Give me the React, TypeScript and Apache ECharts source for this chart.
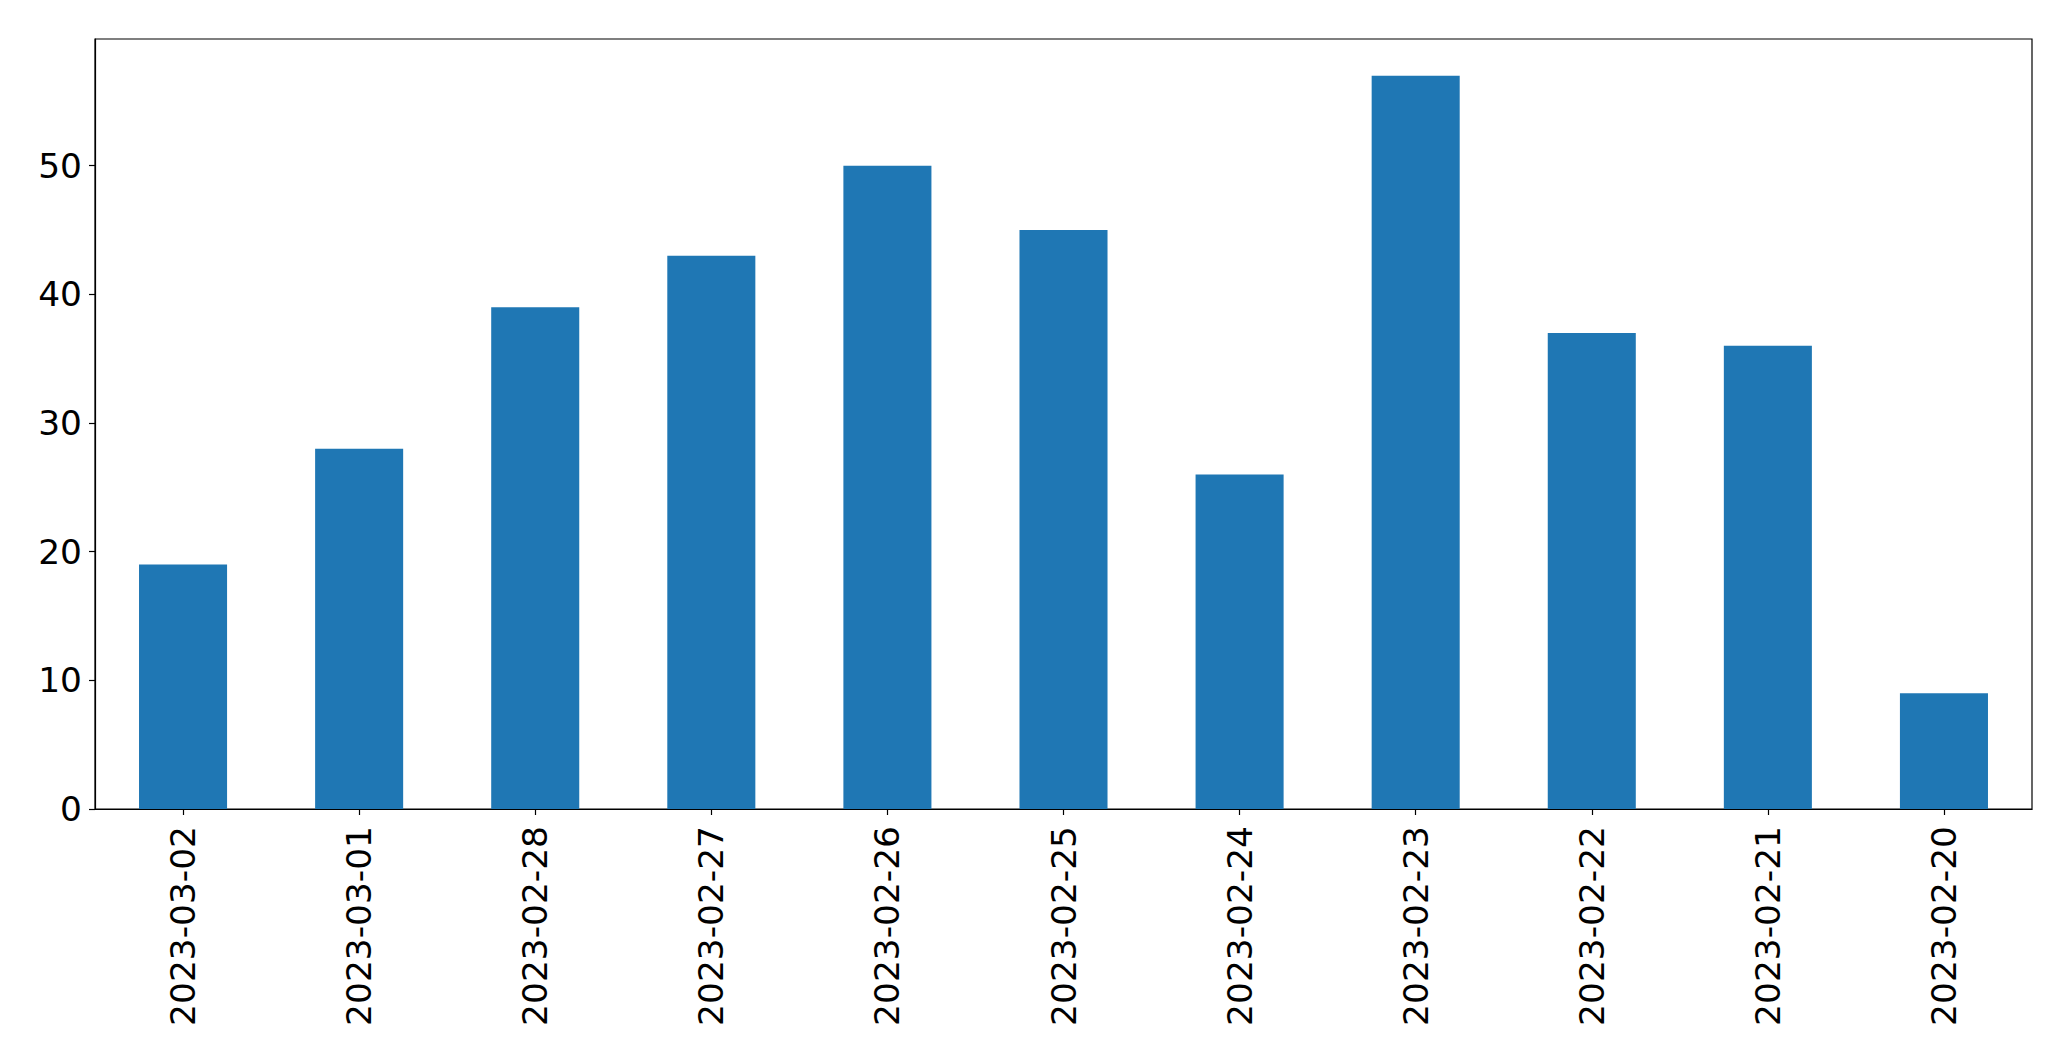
import React, { useEffect, useRef } from "react";
import * as echarts from "echarts";

const categories = [
  "2023-03-02",
  "2023-03-01",
  "2023-02-28",
  "2023-02-27",
  "2023-02-26",
  "2023-02-25",
  "2023-02-24",
  "2023-02-23",
  "2023-02-22",
  "2023-02-21",
  "2023-02-20",
];
const values = [19, 28, 39, 43, 50, 45, 26, 57, 37, 36, 9];
const yMax = 59.85;
const yInterval = 10;

export default function App() {
  const ref = useRef<HTMLDivElement>(null);
  useEffect(() => {
    if (!ref.current) return;
    const chart = echarts.init(ref.current, undefined, { renderer: "svg" });
    const font = "DejaVu Sans";
    chart.setOption({
      animation: false,
      backgroundColor: "#ffffff",
      grid: {
        left: 95,
        right: 39,
        top: 39,
        bottom: 252,
        show: true,
        borderColor: "#000000",
        borderWidth: 1.2,
        containLabel: false,
      },
      xAxis: {
        type: "category",
        data: categories,
        boundaryGap: true,
        axisLine: { show: true, lineStyle: { color: "#000000", width: 1.2 } },
        axisTick: {
          show: true,
          alignWithLabel: true,
          length: 6,
          lineStyle: { color: "#000000", width: 1.2 },
        },
        axisLabel: {
          rotate: 90,
          margin: 17,
          color: "#000000",
          fontFamily: font,
          fontSize: 34.4,
          interval: 0,
        },
        splitLine: { show: false },
      },
      yAxis: {
        type: "value",
        min: 0,
        max: yMax,
        interval: yInterval,
        axisLine: { show: true, lineStyle: { color: "#000000", width: 1.2 } },
        axisTick: {
          show: true,
          length: 6,
          lineStyle: { color: "#000000", width: 1.2 },
        },
        axisLabel: {
          margin: 13,
          color: "#000000",
          fontFamily: font,
          fontSize: 34.4,
          showMaxLabel: false,
          formatter: (v: number) => (v % yInterval === 0 ? String(v) : ""),
        },
        splitLine: { show: false },
      },
      series: [
        {
          type: "bar",
          data: values,
          barWidth: "50%",
          itemStyle: { color: "#1f77b4" },
        },
      ],
    });
    return () => chart.dispose();
  }, []);
  return (
    <div
      ref={ref}
      style={{ position: "fixed", left: 0, top: 0, width: 2071, height: 1061 }}
    />
  );
}
